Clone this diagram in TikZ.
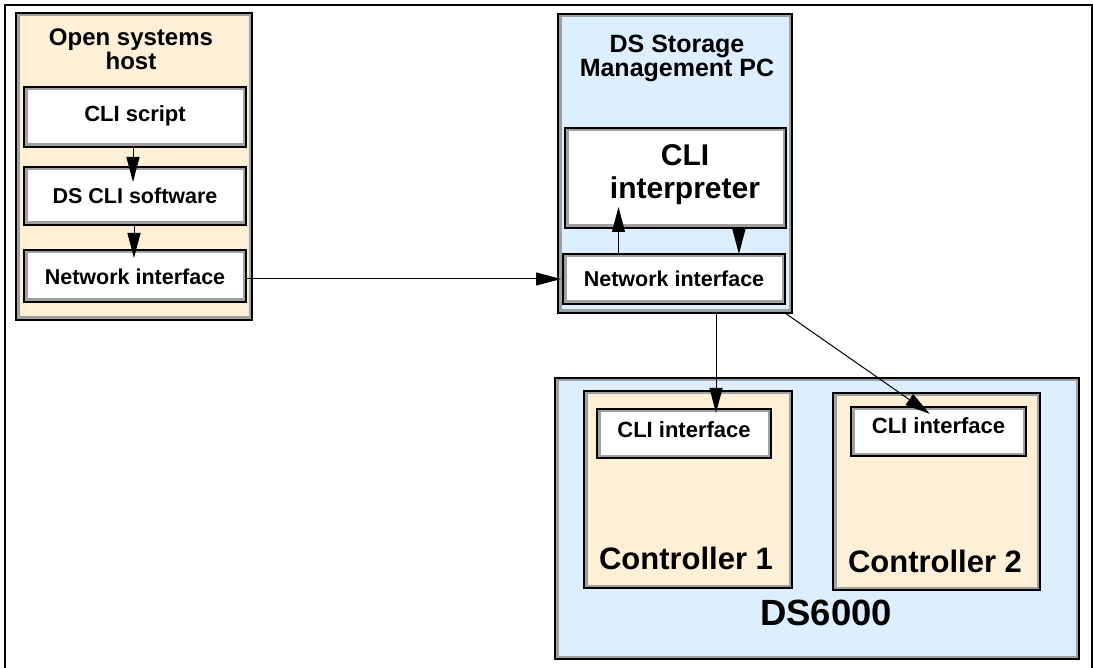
\documentclass[tikz,border=0pt]{standalone}
\usepackage{fontspec}
\setmainfont{Liberation Sans}
\usetikzlibrary{arrows.meta,calc}
\definecolor{beige}{HTML}{FEF0D6}
\definecolor{skyb}{HTML}{DDEEFE}
\definecolor{rimgray}{HTML}{A0A0A0}
\newcommand{\setfs}[2]{\fontsize{#1}{#2}\selectfont}
\tikzset{
  box/.style={draw=black, line width=1.6pt, inner sep=0pt, outer sep=0pt,
    font=\bfseries, align=center, text depth=0pt,
    path picture={\draw[rimgray, line width=7pt]
      (path picture bounding box.south west) rectangle (path picture bounding box.north east);}},
  hostbox/.style={box, fill=beige},
  bluebox/.style={box, fill=skyb},
  whitebox/.style={box, fill=white},
  title/.style={inner sep=0pt, outer sep=0pt, font=\bfseries, align=center},
  arr/.style={-{Triangle[length=25pt,width=13pt]}, line width=1pt, draw=black},
  frameline/.style={line width=1.5pt, draw=black}
}
\begin{document}
\begin{tikzpicture}[x=1pt,y=-1pt]
\useasboundingbox (0,0) rectangle (1093,668);
\draw[frameline] (5,668) -- (5,5) -- (1092,5) -- (1092,668);

% containers
\node[hostbox, minimum width=236pt, minimum height=307pt] (host) at (134,166.5) {};
\node[bluebox, minimum width=234pt, minimum height=299pt] (pc) at (675,163.5) {};
\node[bluebox, minimum width=524pt, minimum height=281pt] (ds) at (817,518.5) {};
\node[hostbox, minimum width=208pt, minimum height=197pt] (ctrla) at (688,489.5) {};
\node[hostbox, minimum width=207pt, minimum height=197pt] (ctrlb) at (936.5,491.5) {};

% titles
\node[title, anchor=north, font=\bfseries\setfs{24}{21}] (hosttitle) at (131,29) {Open systems\\host};
\node[title, anchor=north, font=\bfseries\setfs{25}{22}] (pctitle) at (677,35) {DS Storage\\Management PC};
\node[title, anchor=base, font=\bfseries\setfs{31}{31}] (ctrlatitle) at (686,569) {Controller 1};
\node[title, anchor=base, font=\bfseries\setfs{31}{31}] (ctrlbtitle) at (935,572) {Controller 2};
\node[title, anchor=base, font=\bfseries\setfs{36.5}{36.5}] (dstitle) at (826,625) {DS6000};

% inner boxes
\node[whitebox, minimum width=222pt, minimum height=60pt, text height=10pt, font=\bfseries\setfs{22}{22}] (script) at (135,117) {CLI script};
\node[whitebox, minimum width=222pt, minimum height=58pt, text height=15pt, font=\bfseries\setfs{21.5}{22}] (sw) at (135,196) {DS CLI software};
\node[whitebox, minimum width=222pt, minimum height=52pt, text height=18pt, font=\bfseries\setfs{21.5}{22}] (hostni) at (135,276) {Network interface};
\node[whitebox, minimum width=221pt, minimum height=100pt] (interp) at (675.5,178) {};
\node[title, anchor=north, font=\bfseries\setfs{30}{33}] (interptext) at (685,145) {CLI\\interpreter};
\node[whitebox, minimum width=222pt, minimum height=50pt, text height=16pt, font=\bfseries\setfs{21.5}{22}] (pcni) at (674,279) {Network interface};
\node[whitebox, minimum width=174pt, minimum height=49pt, text height=7pt, font=\bfseries\setfs{22}{22}] (clia) at (684,433.5) {CLI interface};
\node[whitebox, minimum width=175pt, minimum height=49pt, text height=3pt, font=\bfseries\setfs{22}{22}] (clib) at (938.5,431.5) {CLI interface};

% helper coordinates on node sides
\path ($(pcni.north west)!0.25!(pcni.north east)$) coordinate (upx);
\path ($(interp.south west)!0.787!(interp.south east)$) coordinate (dnx);
\path ($(clia.north west)!0.684!(clia.north east)$) coordinate (cax);
\path ([xshift=-7pt]pc.south east) coordinate (diagstart);
\path ($(clib.north west)!0.394!(clib.north east)$) coordinate (cbx);

% connectors
\draw[arr, shorten >=-15pt] ([xshift=-2pt]script.south) -- ([xshift=-2pt]sw.north);
\draw[arr, shorten >=-8pt] ([xshift=-1pt]sw.south) -- ([xshift=-1pt]hostni.north);
\draw[arr, shorten >=2pt] (hostni.east |- pcni.west) -- (pcni.west);
\draw[arr, shorten >=-21pt] (upx) -- (upx |- interp.south);
\draw[arr] (dnx) -- (dnx |- pcni.north);
\draw[arr, shorten >=-4pt] (cax |- pc.south) -- (cax);
\draw[arr, shorten >=-12pt] (diagstart) -- (cbx);
\end{tikzpicture}
\end{document}
